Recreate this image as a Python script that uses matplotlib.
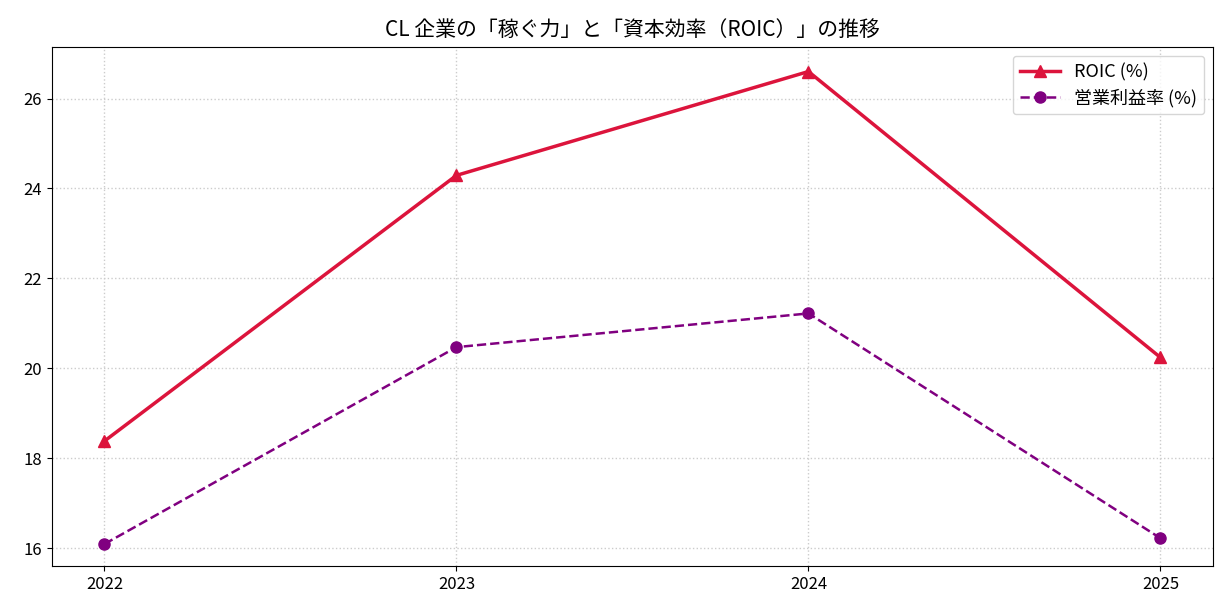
import matplotlib
matplotlib.use("Agg")
import matplotlib.pyplot as plt

plt.rcParams['font.family'] = ['Noto Sans CJK JP', 'DejaVu Sans']

years = ['2022', '2023', '2024', '2025']
roic = [18.38, 24.29, 26.6, 20.24]
op_margin = [16.09, 20.47, 21.22, 16.22]

fig, ax = plt.subplots(figsize=(12.28, 6.16), dpi=100)
x = range(len(years))
ax.plot(x, roic, color='crimson', marker='^', markersize=8, linewidth=2.5, label='ROIC (%)')
ax.plot(x, op_margin, color='purple', marker='o', markersize=8, linewidth=1.8,
        linestyle='--', label='営業利益率 (%)')

ax.set_xticks(list(x))
ax.set_xticklabels(years)
ax.set_xlim(-0.15, 3.15)
ax.set_ylim(15.6, 27.15)
ax.tick_params(labelsize=12)
ax.grid(True, linestyle=':', color='#cccccc', linewidth=1)
ax.set_title('CL 企業の「稼ぐ力」と「資本効率（ROIC）」の推移', fontsize=15, pad=8)
ax.legend(loc='upper right', fontsize=13, handlelength=2.2, labelspacing=0.4)

fig.subplots_adjust(left=0.042, right=0.988, top=0.924, bottom=0.081)
fig.savefig('out.png')
